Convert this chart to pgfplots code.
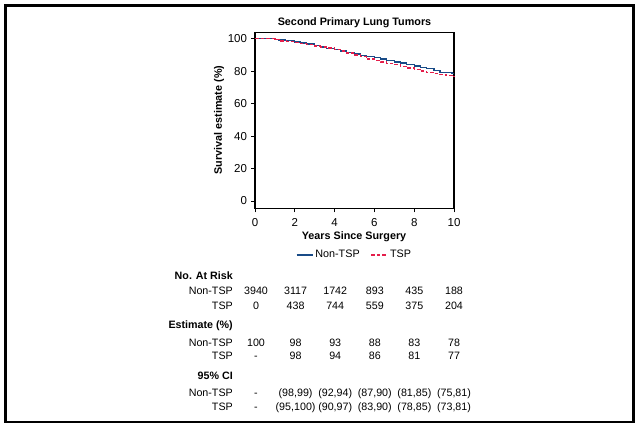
\documentclass[border=0pt]{standalone}
\usepackage{fontspec}
\setmainfont{Liberation Sans}
\usepackage{pgfplots}
\pgfplotsset{compat=1.18}
\definecolor{ntsp}{RGB}{25,75,135}
\definecolor{tsp}{RGB}{228,30,75}
\newcommand{\tf}{\fontsize{10.7bp}{12bp}\selectfont}
\begin{document}
\begin{tikzpicture}[x=1bp,y=1bp]
\path[use as bounding box] (0,0) rectangle (640,428);
\draw[line width=2.2bp] (5.5,6) rectangle (633.5,422.5);
\begin{axis}[at={(255bp,219.7bp)}, anchor=south west, scale only axis,
  width=199bp, height=176bp,
  xmin=0, xmax=10, ymin=-4.5, ymax=104,
  xtick={0,2,...,10}, ytick={0,20,...,100},
  tick align=outside, xtick pos=bottom, ytick pos=left,
  major tick length=4bp,
  axis line style={line width=1.4bp},
  tick style={line width=0.8bp, black},
  tick label style={font=\fontsize{11.5bp}{12bp}\selectfont},
  xticklabel style={yshift=-2.5bp},
  yticklabel style={xshift=-0.5bp},
  /pgf/number format/assume math mode=true,
  legend style={at={(0.5,-0.265)}, anchor=center, draw=none, fill=none,
    font=\fontsize{10.8bp}{12bp}\selectfont, inner sep=0pt,
    /tikz/every even column/.append style={column sep=9bp}},
  legend columns=2,
  legend image code/.code={\draw[#1] (0bp,0bp) -- (16bp,0bp);},
  clip=false]
\addplot[const plot, ntsp, line width=1.3bp] coordinates {
(0,100) (1.0,99.6) (1.2,99.2) (1.5,98.8) (2.0,98.0) (2.3,97.4) (2.6,96.8) (3.0,95.8)
(3.3,95.0) (3.6,94.2) (4.0,93.2) (4.3,92.4) (4.6,91.5) (5.0,90.6) (5.3,89.9) (5.6,89.2)
(6.0,88.3) (6.3,87.6) (6.6,86.5) (7.0,85.6) (7.3,85.0) (7.6,84.0) (8.0,83.2) (8.3,82.5)
(8.6,81.5) (9.0,80.4) (9.3,79.4) (9.6,79.2) (9.9,78.4) (10,78.4)};
\addlegendentry{Non-TSP}
\addplot[const plot, tsp, line width=1.3bp, dash pattern=on 3.5bp off 2bp] coordinates {
(0,100) (1.0,99.5) (1.3,98.7) (1.6,98.3) (2.0,97.8) (2.3,97.2) (2.6,96.5) (3.0,95.6)
(3.3,95.0) (3.6,94.3) (4.0,93.5) (4.3,92.5) (4.6,91.3) (5.0,90.0) (5.3,88.9) (5.6,87.6)
(6.0,86.5) (6.3,85.6) (6.6,84.8) (7.0,84.0) (7.3,83.0) (7.6,82.0) (8.0,81.0) (8.3,80.2)
(8.6,79.3) (9.0,78.5) (9.3,77.8) (9.6,77.2) (10,76.7)};
\addlegendentry{TSP}
\end{axis}
% title and axis labels
\node[anchor=base, inner sep=0pt, font=\fontsize{10.8bp}{12bp}\selectfont\bfseries] at (354.5,{428-25.7}) {Second Primary Lung Tumors};
\node[anchor=base, inner sep=0pt, font=\fontsize{10.8bp}{12bp}\selectfont\bfseries] at (354,{428-239.5}) {Years Since Surgery};
\node[rotate=90, inner sep=0pt, font=\fontsize{10.8bp}{12bp}\selectfont\bfseries] at (219,{428-120}) {Survival estimate (\%)};
% table
\begin{scope}[every node/.style={inner sep=0pt, font=\tf}]
\node[anchor=base east, font=\tf\bfseries] at (233,{428-279}) {No. At Risk};
\node[anchor=base east] at (233,{428-294.7}) {Non-TSP};
\node[anchor=base east] at (233,{428-309.7}) {TSP};
\node[anchor=base east, font=\tf\bfseries] at (233,{428-328}) {Estimate (\%)};
\node[anchor=base east] at (233,{428-346}) {Non-TSP};
\node[anchor=base east] at (233,{428-359.7}) {TSP};
\node[anchor=base east, font=\tf\bfseries] at (233,{428-379.3}) {95\% CI};
\node[anchor=base east] at (233,{428-396.5}) {Non-TSP};
\node[anchor=base east] at (233,{428-410.5}) {TSP};
\foreach \v [count=\i from 0] in {3940,3117,1742,893,435,188}
  \node[anchor=base] at ({256+39.6*\i},{428-294.7}) {\v};
\foreach \v [count=\i from 0] in {0,438,744,559,375,204}
  \node[anchor=base] at ({256+39.6*\i},{428-309.7}) {\v};
\foreach \v [count=\i from 0] in {100,98,93,88,83,78}
  \node[anchor=base] at ({256+39.6*\i},{428-346}) {\v};
\foreach \v [count=\i from 0] in {-,98,94,86,81,77}
  \node[anchor=base] at ({256+39.6*\i},{428-359.7}) {\v};
\foreach \v [count=\i from 0] in {-,{(98,99)},{(92,94)},{(87,90)},{(81,85)},{(75,81)}}
  \node[anchor=base] at ({256+39.6*\i},{428-396.5}) {\v};
\foreach \v [count=\i from 0] in {-,{(95,100)},{(90,97)},{(83,90)},{(78,85)},{(73,81)}}
  \node[anchor=base] at ({256+39.6*\i},{428-410.5}) {\v};
\end{scope}
\end{tikzpicture}
\end{document}
